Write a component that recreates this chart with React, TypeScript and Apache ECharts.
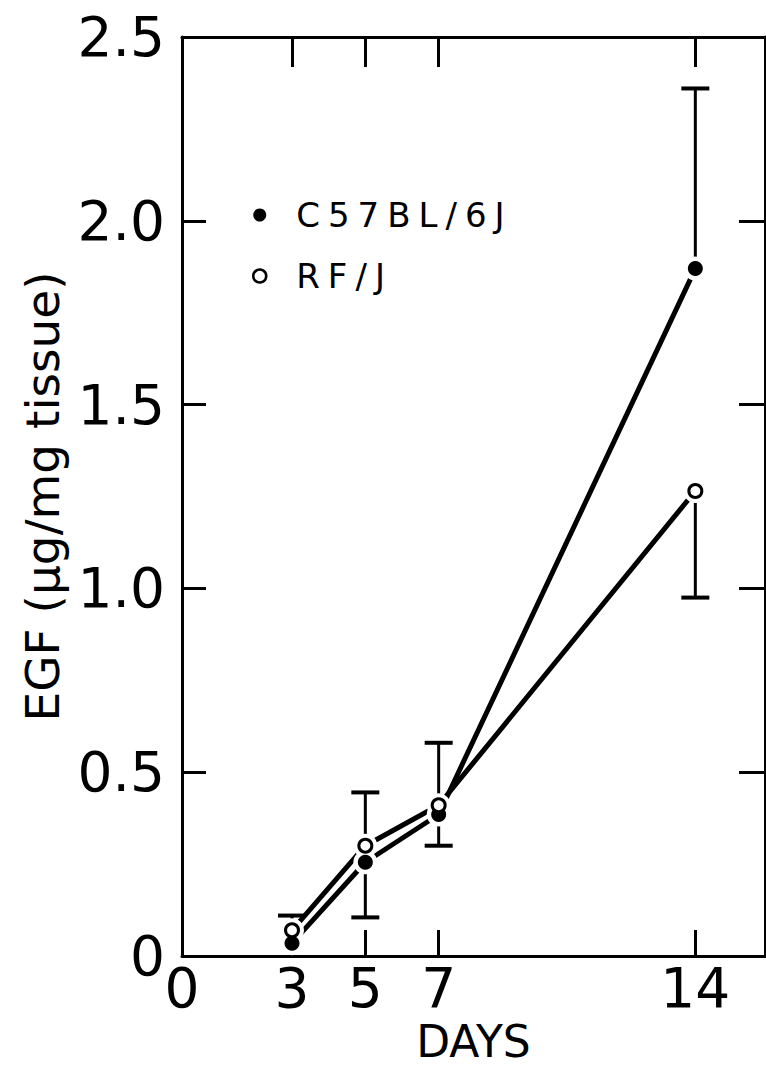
import React, { useEffect, useRef } from "react";
import * as echarts from "echarts";

const days = [3, 5, 7, 14];
const c57Values = [0.035, 0.255, 0.385, 1.87];
const rfValues = [0.07, 0.3, 0.41, 1.265];
// error bar end points (one-sided bars as drawn in the figure)
const c57ErrEnd: (number | null)[] = [null, 0.105, 0.3, 2.36];
const rfErrEnd: (number | null)[] = [0.11, 0.445, 0.58, 0.975];
const xTickValues = [3, 5, 7, 14];
const xLabelValues = [0, 3, 5, 7, 14];
const seriesNames = ["C57BL/6J", "RF/J"];

const FONT = "DejaVu Sans";
const LEGEND_FONT = "DejaVu Sans, legendfont";

function errData(vals: number[], ends: (number | null)[]) {
  const out: number[][] = [];
  days.forEach((d, i) => {
    const e = ends[i];
    if (e !== null) out.push([d, vals[i], e]);
  });
  return out;
}

function renderErr(params: any, api: any) {
  const x = api.value(0);
  const v = api.value(1);
  const e = api.value(2);
  const p0 = api.coord([x, v]);
  const p1 = api.coord([x, e]);
  const half = 14;
  return {
    type: "group",
    children: [
      {
        type: "line",
        shape: { x1: p0[0], y1: p0[1], x2: p1[0], y2: p1[1] },
        style: { stroke: "#000", lineWidth: 3 },
      },
      {
        type: "line",
        shape: { x1: p1[0] - half, y1: p1[1], x2: p1[0] + half, y2: p1[1] },
        style: { stroke: "#000", lineWidth: 4 },
      },
    ],
  };
}

export default function App() {
  const ref = useRef<HTMLDivElement>(null);
  useEffect(() => {
    if (!ref.current) return;
    const chart = echarts.init(ref.current, undefined, { renderer: "svg" });
    const c57 = days.map((d, i) => [d, c57Values[i]]);
    const rf = days.map((d, i) => [d, rfValues[i]]);
    const axisLine = { show: true, onZero: false, lineStyle: { color: "#000", width: 3 } };
    chart.setOption({
      animation: false,
      backgroundColor: "#fff",
      grid: {
        left: 182,
        right: 1,
        top: 37,
        bottom: 115,
        containLabel: false,
        outerBoundsMode: "none",
      },
      legend: {
        orient: "vertical",
        left: 247,
        top: 193,
        itemWidth: 13,
        itemHeight: 13,
        itemGap: 27,
        selectedMode: false,
        textStyle: {
          fontSize: 34,
          lineHeight: 34,
          fontFamily: LEGEND_FONT,
          color: "#000",
          padding: [0, 0, 0, 25],
        },
        data: [
          { name: seriesNames[0], icon: "circle", itemStyle: { color: "#000" } },
          {
            name: seriesNames[1],
            icon: "circle",
            itemStyle: { color: "#fff", borderColor: "#000", borderWidth: 2.5 },
          },
        ],
      },
      xAxis: [
        {
          type: "value",
          min: 0,
          max: 15.9,
          position: "bottom",
          splitLine: { show: false },
          axisLine,
          axisTick: {
            show: true,
            inside: true,
            length: 26,
            lineStyle: { color: "#000", width: 3 },
            customValues: xTickValues,
          },
          axisLabel: {
            customValues: xLabelValues,
            fontSize: 55,
            fontFamily: FONT,
            color: "#000",
            margin: 4,
          },
          name: "DAYS",
          nameLocation: "middle",
          nameGap: 62,
          nameTextStyle: { fontSize: 44, lineHeight: 44, fontFamily: FONT, color: "#000" },
        },
        {
          type: "value",
          min: 0,
          max: 15.9,
          position: "top",
          splitLine: { show: false },
          axisLine,
          axisTick: {
            show: true,
            inside: true,
            length: 30,
            lineStyle: { color: "#000", width: 3 },
            customValues: xTickValues,
          },
          axisLabel: { show: false },
        },
      ],
      yAxis: [
        {
          type: "value",
          min: 0,
          max: 2.5,
          interval: 0.5,
          position: "left",
          splitLine: { show: false },
          axisLine,
          axisTick: {
            show: true,
            inside: true,
            length: 24,
            lineStyle: { color: "#000", width: 3 },
          },
          axisLabel: {
            fontSize: 55,
            fontFamily: FONT,
            color: "#000",
            margin: 17,
            formatter: (v: number) => (v === 0 ? "0" : v.toFixed(1)),
          },
          name: "EGF (μg/mg tissue)",
          nameLocation: "middle",
          nameGap: 116,
          nameRotate: 90,
          nameTextStyle: { fontSize: 47, lineHeight: 47, fontFamily: FONT, color: "#000" },
        },
        {
          type: "value",
          min: 0,
          max: 2.5,
          interval: 0.5,
          position: "right",
          splitLine: { show: false },
          axisLine,
          axisTick: {
            show: true,
            inside: true,
            length: 26,
            lineStyle: { color: "#000", width: 3 },
          },
          axisLabel: { show: false },
        },
      ],
      series: [
        {
          name: "c57-line",
          type: "line",
          data: c57,
          symbol: "none",
          lineStyle: { color: "#000", width: 5 },
          z: 2,
          silent: true,
        },
        {
          name: "rf-line",
          type: "line",
          data: rf,
          symbol: "none",
          lineStyle: { color: "#000", width: 5 },
          z: 2,
          silent: true,
        },
        {
          name: "c57-err",
          type: "custom",
          data: errData(c57Values, c57ErrEnd),
          renderItem: renderErr,
          z: 2,
          silent: true,
        },
        {
          name: "rf-err",
          type: "custom",
          data: errData(rfValues, rfErrEnd),
          renderItem: renderErr,
          z: 2,
          silent: true,
        },
        {
          name: "halo",
          type: "scatter",
          data: [...c57, ...rf],
          symbol: "circle",
          symbolSize: 24,
          itemStyle: { color: "#fff", opacity: 1 },
          z: 3,
          silent: true,
        },
        {
          name: seriesNames[0],
          type: "scatter",
          data: c57,
          symbol: "circle",
          symbolSize: 15,
          itemStyle: { color: "#000", opacity: 1 },
          z: 4,
        },
        {
          name: seriesNames[1],
          type: "scatter",
          data: rf,
          symbol: "circle",
          symbolSize: 13,
          itemStyle: { color: "#fff", borderColor: "#000", borderWidth: 3, opacity: 1 },
          z: 5,
        },
      ],
    });
    return () => chart.dispose();
  }, []);
  return (
    <>
      <style>{`.egf-chart text[style*="legendfont"] { letter-spacing: 8px; }`}</style>
      <div
        ref={ref}
        className="egf-chart"
        style={{ position: "absolute", left: 0, top: 0, width: 766, height: 1071 }}
      />
    </>
  );
}
